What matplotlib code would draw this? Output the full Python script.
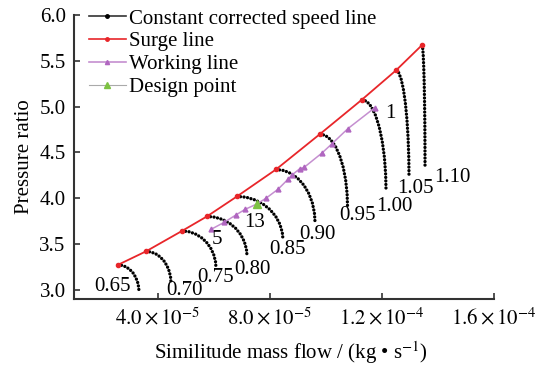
import numpy as np
import matplotlib
matplotlib.use("Agg")
import matplotlib.pyplot as plt
from matplotlib.lines import Line2D

plt.rcParams['font.family'] = ['Liberation Serif', 'DejaVu Serif']
plt.rcParams['mathtext.fontset'] = 'stix'

# mass flow in units of 1e-5 kg/s
speeds = ['0.65', '0.70', '0.75', '0.80', '0.85', '0.90', '0.95', '1.00', '1.05', '1.10']
speed_x = [
    [2.571, 2.720, 2.863, 2.995, 3.109, 3.202, 3.270, 3.310, 3.321],
    [3.571, 3.749, 3.918, 4.076, 4.211, 4.322, 4.403, 4.451, 4.464],
    [4.857, 5.099, 5.329, 5.543, 5.727, 5.878, 5.988, 6.053, 6.071],
    [5.750, 6.034, 6.306, 6.557, 6.775, 6.952, 7.082, 7.158, 7.179],
    [6.821, 7.148, 7.460, 7.749, 8.001, 8.203, 8.352, 8.439, 8.464],
    [8.214, 8.491, 8.756, 9.001, 9.213, 9.386, 9.512, 9.586, 9.607],
    [9.786, 9.981, 10.168, 10.341, 10.490, 10.612, 10.701, 10.753, 10.768],
    [11.286, 11.457, 11.619, 11.770, 11.900, 12.007, 12.085, 12.130, 12.143],
    [12.500, 12.592, 12.680, 12.762, 12.833, 12.890, 12.932, 12.957, 12.964],
    [13.429, 13.450, 13.471, 13.489, 13.506, 13.519, 13.529, 13.534, 13.536],
]
speed_y = [
    [3.273, 3.267, 3.250, 3.221, 3.184, 3.137, 3.085, 3.028, 2.978],
    [3.420, 3.413, 3.393, 3.360, 3.316, 3.262, 3.201, 3.134, 3.076],
    [3.643, 3.635, 3.611, 3.572, 3.521, 3.458, 3.386, 3.309, 3.240],
    [3.802, 3.793, 3.768, 3.727, 3.671, 3.604, 3.527, 3.444, 3.371],
    [4.020, 4.011, 3.982, 3.937, 3.876, 3.802, 3.717, 3.626, 3.545],
    [4.314, 4.303, 4.269, 4.214, 4.141, 4.051, 3.949, 3.839, 3.742],
    [4.701, 4.685, 4.639, 4.564, 4.463, 4.340, 4.200, 4.049, 3.916],
    [5.077, 5.057, 4.999, 4.904, 4.778, 4.623, 4.448, 4.259, 4.091],
    [5.396, 5.373, 5.304, 5.192, 5.043, 4.861, 4.653, 4.430, 4.232],
    [5.672, 5.645, 5.566, 5.437, 5.265, 5.055, 4.816, 4.558, 4.330],
]
# where the speed numbers sit
speed_lab_x = [2.36, 4.93, 6.07, 7.36, 8.61, 9.71, 11.11, 12.45, 13.20, 14.50]
speed_lab_y = [3.04, 2.99, 3.13, 3.22, 3.44, 3.60, 3.81, 3.91, 4.11, 4.23]

surge_x = [2.571, 3.571, 4.857, 5.750, 6.821, 8.214, 9.786, 11.286, 12.500, 13.429]
surge_y = [3.273, 3.420, 3.643, 3.802, 4.020, 4.314, 4.701, 5.077, 5.396, 5.672]

work_x = [5.893, 6.357, 6.786, 7.107, 7.536, 7.857, 8.286, 8.643, 8.786, 9.054, 9.214,
          9.857, 10.196, 10.786, 11.750]
work_y = [3.660, 3.736, 3.818, 3.878, 3.938, 4.000, 4.098, 4.207, 4.254, 4.320, 4.336,
          4.494, 4.590, 4.761, 4.990]
work_labels = ['5', '13', '1']
work_lab_x = [6.11, 7.46, 12.29]
work_lab_y = [3.55, 3.74, 4.92]

design_x = [7.536]
design_y = [3.938]

xticks = [4e-5, 8e-5, 1.2e-4, 1.6e-4]
xticklabels = [r'$4.0\times10^{-5}$', r'$8.0\times10^{-5}$',
               r'$1.2\times10^{-4}$', r'$1.6\times10^{-4}$']
yticks = [3.0, 3.5, 4.0, 4.5, 5.0, 5.5, 6.0]

fig = plt.figure(figsize=(5.43, 3.68), dpi=100)
ax = fig.add_axes([0.1363, 0.1875, 0.7735, 0.7717])

for xs, ys in zip(speed_x, speed_y):
    ax.plot(np.array(xs) * 1e-5, ys, color='black', lw=2.4,
            ls=(0, (0.01, 1.05)), dash_capstyle='round', zorder=3)
for lab, lx, ly in zip(speeds, speed_lab_x, speed_lab_y):
    ax.text(lx * 1e-5, ly, lab, fontsize=15, ha='center', va='center', zorder=5)

ax.plot(np.array(surge_x) * 1e-5, surge_y, color='#e8262a', lw=1.3,
        marker='o', ms=3, zorder=4)
ax.plot(np.array(work_x) * 1e-5, work_y, color='#c58fd0', lw=1.1,
        marker='^', ms=3.5, mfc='#b066c0', mec='#b066c0', zorder=4)
ax.plot(np.array(design_x) * 1e-5, design_y, ls='none', marker='^', ms=5.5,
        color='#7dc242', zorder=6)
for lab, lx, ly in zip(work_labels, work_lab_x, work_lab_y):
    ax.text(lx * 1e-5, ly, lab, fontsize=15, ha='center', va='center', zorder=5)

ax.set_xlim(1e-5, 1.6e-4)
ax.set_ylim(2.9, 6.0)
ax.set_xticks(xticks)
ax.set_xticklabels(xticklabels, fontsize=15)
ax.set_yticks(yticks)
ax.set_yticklabels(['%.1f' % v for v in yticks], fontsize=15)
ax.tick_params(direction='in', length=4, width=1.2, color='#333333', pad=6)
for s in ['top', 'right']:
    ax.spines[s].set_visible(False)
for s in ['left', 'bottom']:
    ax.spines[s].set_linewidth(1.5)
    ax.spines[s].set_color('#333333')

ax.set_xlabel('Similitude mass flow / (kg \u2022 s$^{-1}$)', fontsize=15, labelpad=7, x=0.517)
ax.set_ylabel('Pressure ratio', fontsize=15, labelpad=4)

handles = [
    Line2D([], [], color='#333333', lw=1.2, marker='o', ms=2.5, mfc='black', mec='black'),
    Line2D([], [], color='#e8262a', lw=1.2, marker='o', ms=2.5),
    Line2D([], [], color='#c58fd0', lw=1.2, marker='^', ms=3, mfc='#b066c0', mec='#b066c0'),
    Line2D([], [], color='#aaaaaa', lw=0.8, marker='^', ms=4, mfc='#7dc242', mec='#7dc242'),
]
names = ['Constant corrected speed line', 'Surge line', 'Working line', 'Design point']
ax.legend(handles, names, loc='upper left', bbox_to_anchor=(0.0, 1.072), frameon=False,
          fontsize=15, handlelength=1.8, handletextpad=0.15, labelspacing=0.15,
          borderpad=0.2)

fig.savefig('out.png', dpi=100)
